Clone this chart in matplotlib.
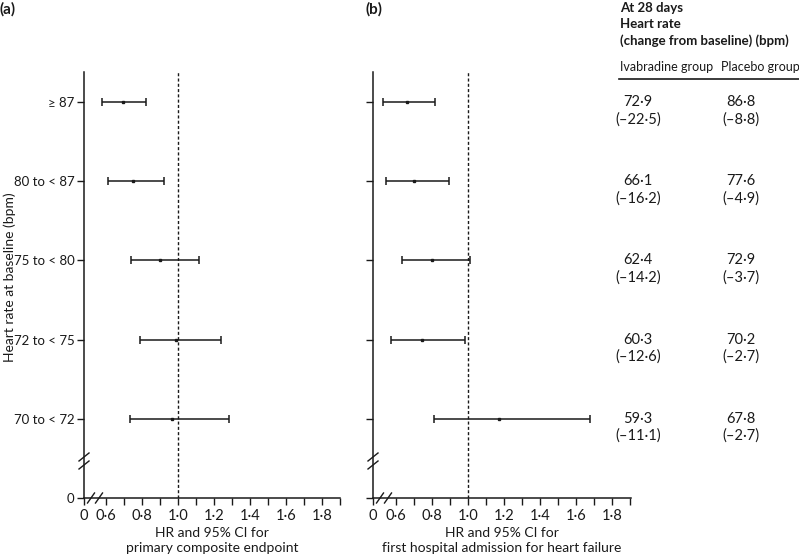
import matplotlib
matplotlib.use("Agg")
import matplotlib.pyplot as plt
import numpy as np

plt.rcParams['font.family'] = ['Lato', 'DejaVu Sans']

# ---- data ----
categories = ["≥ 87", "80 to < 87", "75 to < 80", "72 to < 75", "70 to < 72"]
cat_pos = [5, 4, 3, 2, 1]

hr_a = [0.693, 0.748, 0.902, 0.987, 0.968]
lo_a = [0.579, 0.611, 0.739, 0.789, 0.735]
hi_a = [0.821, 0.921, 1.115, 1.241, 1.282]

hr_b = [0.661, 0.702, 0.800, 0.746, 1.172]
lo_b = [0.528, 0.543, 0.633, 0.572, 0.809]
hi_b = [0.818, 0.893, 1.011, 0.983, 1.678]

ivab_hr = ["72·9", "66·1", "62·4", "60·3", "59·3"]
ivab_chg = ["(–22·5)", "(–16·2)", "(–14·2)", "(–12·6)", "(–11·1)"]
plac_hr = ["86·8", "77·6", "72·9", "70·2", "67·8"]
plac_chg = ["(–8·8)", "(–4·9)", "(–3·7)", "(–2·7)", "(–2·7)"]

major_ticks = [0.6, 0.8, 1.0, 1.2, 1.4, 1.6, 1.8]
major_labels = ["0·6", "0·8", "1·0", "1·2", "1·4", "1·6", "1·8"]
minor_ticks = [0.7, 0.9, 1.1, 1.3, 1.5, 1.7, 1.9]

xlabel_a = "HR and 95% CI for\nprimary composite endpoint"
xlabel_b = "HR and 95% CI for\nfirst hospital admission for heart failure"
ylabel = "Heart rate at baseline (bpm)"

W, H = 799, 556
fig = plt.figure(figsize=(W / 100, H / 100), dpi=100)

col = "#1a1a1a"
ytop = 5.38

def fx(px):
    return px / W

def fy(py):
    return 1 - py / H

def make_panel(left_px, right_px, xmin, xmax, hr, lo, hi, xlabel, show_ylabels):
    ax = fig.add_axes([fx(left_px), fy(498), fx(right_px - left_px), (498 - 72) / H])
    ax.set_xlim(xmin, xmax)
    ax.set_ylim(0, ytop)
    for s in ['top', 'right']:
        ax.spines[s].set_visible(False)
    for s in ['left', 'bottom']:
        ax.spines[s].set_linewidth(1.1)
        ax.spines[s].set_color(col)
    hr = np.array(hr); lo = np.array(lo); hi = np.array(hi)
    ax.errorbar(hr, cat_pos, xerr=[hr - lo, hi - hr], fmt='s', color=col,
                ms=2.0, lw=1.1, capsize=3.2, capthick=1.1, elinewidth=1.1)
    ax.plot([1.0, 1.0], [0, ytop], color=col, lw=1.0, ls=(0, (2.2, 1.6)))
    ax.set_xticks([xmin] + major_ticks)
    ax.set_xticklabels(["0"] + major_labels)
    ax.set_xticks(minor_ticks, minor=True)
    ax.tick_params(axis='x', which='both', direction='out', length=5, width=1.0,
                   color=col, labelsize=10.5, pad=3, labelcolor=col)
    ax.set_yticks([0] + cat_pos)
    if show_ylabels:
        ax.set_yticklabels(["0"] + categories)
    else:
        ax.set_yticklabels([])
    ax.tick_params(axis='y', which='both', direction='out', length=5, width=1.0,
                   color=col, labelsize=9.5, pad=2, labelcolor=col)
    ax.set_xlabel(xlabel, fontsize=10, color=col, linespacing=1.3, labelpad=3)
    # break marks on x axis
    wpx = right_px - left_px
    hpx = 498 - 72
    for cx in (7, 15):
        x0 = (cx - 3.5) / wpx; x1 = (cx + 3.5) / wpx
        ax.plot([x0, x1], [-5 / hpx, 5 / hpx], transform=ax.transAxes,
                color=col, lw=1.0, clip_on=False)
    # break marks on y axis
    for cy in (41, 33):
        ax.plot([-5 / wpx, 5 / wpx], [(cy - 4) / hpx, (cy + 4) / hpx],
                transform=ax.transAxes, color=col, lw=1.0, clip_on=False)
    return ax

ax_a = make_panel(84, 340, 0.478, 1.9, hr_a, lo_a, hi_a, xlabel_a, True)
ax_b = make_panel(373, 631, 0.472, 1.905, hr_b, lo_b, hi_b, xlabel_b, False)
fig.text(fx(10), fy(277), ylabel, fontsize=10, color=col, rotation=90,
         ha='center', va='center')

fig.text(fx(0), fy(9), "(a)", fontsize=11, fontweight='bold', va='center', ha='left', color=col)
fig.text(fx(366), fy(9), "(b)", fontsize=11, fontweight='bold', va='center', ha='left', color=col)

# ---- table ----
axt = fig.add_axes([fx(615), fy(498), fx(184), (498 - 72) / H])
axt.set_xlim(0, 1)
axt.set_ylim(0, ytop)
axt.axis('off')

hdr = 9.5
fig.text(fx(620), fy(8), "At 28 days", fontsize=hdr, fontweight='bold', va='center', ha='left', color=col)
fig.text(fx(620), fy(24), "Heart rate", fontsize=hdr, fontweight='bold', va='center', ha='left', color=col)
fig.text(fx(620), fy(41), "(change from baseline) (bpm)", fontsize=hdr, fontweight='bold', va='center', ha='left', color=col)
fig.text(fx(620), fy(67), "Ivabradine group", fontsize=9, va='center', ha='left', color=col)
fig.text(fx(721), fy(67), "Placebo group", fontsize=9, va='center', ha='left', color=col)
fig.add_artist(plt.Line2D([fx(619), fx(799)], [fy(79), fy(79)], color=col, lw=1.2))

dy = 17 / ((498 - 72) / ytop)
for i, y in enumerate(cat_pos):
    axt.text(0.125, y, ivab_hr[i], fontsize=10.5, ha='center', va='center', color=col)
    axt.text(0.125, y - dy, ivab_chg[i], fontsize=10.5, ha='center', va='center', color=col)
    axt.text(0.685, y, plac_hr[i], fontsize=10.5, ha='center', va='center', color=col)
    axt.text(0.685, y - dy, plac_chg[i], fontsize=10.5, ha='center', va='center', color=col)

fig.savefig("out.png", dpi=100)
